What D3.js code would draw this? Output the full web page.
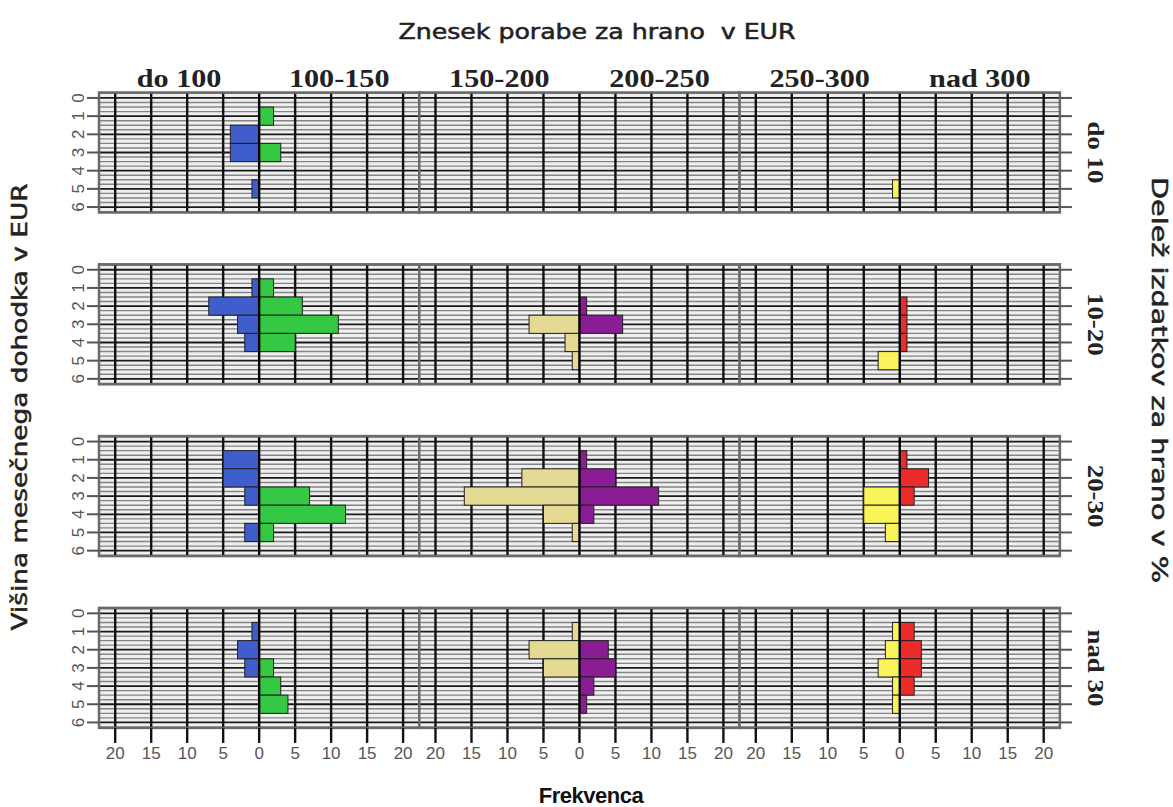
<!DOCTYPE html>
<html>
<head>
<meta charset="utf-8">
<script src="https://cdn.jsdelivr.net/npm/d3@7/dist/d3.min.js"></script>
<style>
  body { margin: 0; background: #fff; }
  svg { display: block; }
</style>
</head>
<body>
<svg id="chart"></svg>
<script>
// income level (y), spending categories (columns), share of food spending (rows)
const incomeLevels = [0, 1, 2, 3, 4, 5, 6];
const spendCats = ['do 100', '100-150', '150-200', '200-250', '250-300', 'nad 300'];
const shareCats = ['do 10', '10-20', '20-30', 'nad 30'];
const xTicks = [20, 15, 10, 5, 0, 5, 10, 15, 20];

// counts per income level, one list per spending category
const rowDo10 = [
  [0, 0, 4, 4, 0, 1, 0],
  [0, 2, 0, 3, 0, 0, 0],
  [0, 0, 0, 0, 0, 0, 0],
  [0, 0, 0, 0, 0, 0, 0],
  [0, 0, 0, 0, 0, 1, 0],
  [0, 0, 0, 0, 0, 0, 0]
];
const row10to20 = [
  [0, 1, 7, 3, 2, 0, 0],
  [0, 2, 6, 11, 5, 0, 0],
  [0, 0, 0, 7, 2, 1, 0],
  [0, 0, 1, 6, 0, 0, 0],
  [0, 0, 0, 0, 0, 3, 0],
  [0, 0, 1, 1, 1, 0, 0]
];
const row20to30 = [
  [0, 5, 5, 2, 0, 2, 0],
  [0, 0, 0, 7, 12, 2, 0],
  [0, 0, 8, 16, 5, 1, 0],
  [0, 1, 5, 11, 2, 0, 0],
  [0, 0, 0, 5, 5, 2, 0],
  [0, 1, 4, 2, 0, 0, 0]
];
const rowNad30 = [
  [0, 1, 3, 2, 0, 0, 0],
  [0, 0, 0, 2, 3, 4, 0],
  [0, 1, 7, 5, 0, 0, 0],
  [0, 0, 4, 5, 2, 1, 0],
  [0, 1, 2, 3, 1, 1, 0],
  [0, 2, 3, 3, 2, 0, 0]
];
const rows = [rowDo10, row10to20, row20to30, rowNad30];

const colors = ['#3f5ecb', '#34c845', '#e4da94', '#8a1c94', '#f9f45a', '#ee2b2b'];

const width = 1173, height = 807;
const svg = d3.select('#chart').attr('width', width).attr('height', height);

const panelLeft = 99, panelW = 320.3;
const rowTop = 92.5, rowStep = 171.8, rowH = 120;

// one x scale per pyramid pair (left side negative)
const xScales = [0, 1, 2].map(p => d3.scaleLinear()
  .domain([-22.25, 22.25])
  .range([panelLeft + p * panelW, panelLeft + (p + 1) * panelW]));

const gridY = d3.range(-0.25, 6.3, 0.25);

// stretch text horizontally like the original (wide rendering)
const stretch = (sel, k) => {
  const len = sel.node().getComputedTextLength();
  sel.attr('textLength', len * k).attr('lengthAdjust', 'spacingAndGlyphs');
};

rows.forEach((rowData, r) => {
  const top = rowTop + r * rowStep;
  const y = d3.scaleLinear().domain([-0.3, 6.3]).range([top, top + rowH]);
  const g = svg.append('g').attr('class', 'row');

  xScales.forEach((x, p) => {
    const pg = g.append('g');
    const [x0, x1] = x.range();

    pg.append('rect')
      .attr('x', x0).attr('y', top)
      .attr('width', x1 - x0).attr('height', rowH)
      .attr('fill', '#efefef');

    // horizontal stripes
    pg.selectAll('.hgrid').data(gridY).enter().append('line')
      .attr('x1', x0).attr('x2', x1)
      .attr('y1', d => y(d)).attr('y2', d => y(d))
      .attr('stroke', d => Number.isInteger(d) ? '#1a1a1a' : '#858585')
      .attr('stroke-width', d => Number.isInteger(d) ? 1.8 : 1.4);

    // vertical grid
    const vx = [-20, -15, -10, -5, 5, 10, 15, 20];
    pg.selectAll('.vgrid').data(vx).enter().append('line')
      .attr('x1', d => x(d)).attr('x2', d => x(d))
      .attr('y1', top).attr('y2', top + rowH)
      .attr('stroke', '#111').attr('stroke-width', 2.4);

    // bars: left category, right category
    [0, 1].forEach(side => {
      const c = p * 2 + side;
      const vals = rowData[c];
      pg.selectAll('.bar' + side).data(incomeLevels.filter(i => vals[i] > 0)).enter().append('rect')
        .attr('x', i => side === 0 ? x(-vals[i]) : x(0))
        .attr('width', i => Math.abs(x(vals[i]) - x(0)))
        .attr('y', i => y(i - 0.5))
        .attr('height', i => y(i + 0.5) - y(i - 0.5))
        .attr('fill', colors[c])
        .attr('stroke', '#222')
        .attr('stroke-width', 1);
    });

    // zero line
    pg.append('line')
      .attr('x1', x(0)).attr('x2', x(0))
      .attr('y1', top).attr('y2', top + rowH)
      .attr('stroke', '#000').attr('stroke-width', 2.4);

    pg.append('rect')
      .attr('x', x0).attr('y', top)
      .attr('width', x1 - x0).attr('height', rowH)
      .attr('fill', 'none').attr('stroke', '#6a6a6a').attr('stroke-width', 2.5);
  });

  // y ticks left and right
  const xl = panelLeft, xr = panelLeft + 3 * panelW;
  g.selectAll('.ytl').data(incomeLevels).enter().append('line')
    .attr('x1', xl - 12).attr('x2', xl)
    .attr('y1', d => y(d)).attr('y2', d => y(d))
    .attr('stroke', '#555').attr('stroke-width', 2);
  g.selectAll('.ytr').data(incomeLevels).enter().append('line')
    .attr('x1', xr).attr('x2', xr + 12)
    .attr('y1', d => y(d)).attr('y2', d => y(d))
    .attr('stroke', '#555').attr('stroke-width', 2);
  g.selectAll('.ylab').data(incomeLevels).enter().append('text')
    .attr('transform', d => `translate(${xl - 21},${y(d)}) rotate(-90)`)
    .attr('text-anchor', 'middle')
    .attr('dy', '0.35em')
    .style('font-family', 'Liberation Sans, Arial, sans-serif')
    .style('font-size', '17px')
    .attr('fill', '#555')
    .text(d => d);

  // row label
  const rl = g.append('text')
    .attr('transform', `translate(${xr + 37},${top + rowH / 2}) rotate(90)`)
    .attr('text-anchor', 'middle')
    .attr('dy', '0.35em')
    .style('font-family', 'Liberation Serif, serif')
    .style('font-weight', 'bold')
    .style('font-size', '24px')
    .attr('fill', '#222')
    .text(shareCats[r]);
  stretch(rl, 1.12);
});

// bottom x axis ticks and labels
const bottom = rowTop + 3 * rowStep + rowH;
xScales.forEach(x => {
  const tv = [-20, -15, -10, -5, 0, 5, 10, 15, 20];
  svg.selectAll(null).data(tv).enter().append('line')
    .attr('x1', d => x(d)).attr('x2', d => x(d))
    .attr('y1', bottom).attr('y2', bottom + 15)
    .attr('stroke', '#111').attr('stroke-width', 2.4);
  svg.selectAll(null).data(tv).enter().append('text')
    .attr('x', d => x(d)).attr('y', bottom + 31)
    .attr('text-anchor', 'middle')
    .style('font-family', 'Liberation Sans, Arial, sans-serif')
    .style('font-size', '17px')
    .attr('fill', '#555')
    .text((d, i) => xTicks[i]);
});

// column labels
spendCats.forEach((c, i) => {
  const x = xScales[Math.floor(i / 2)];
  const cx = i % 2 === 0 ? x(-11.125) : x(11.125);
  const t = svg.append('text')
    .attr('x', cx).attr('y', 87)
    .attr('text-anchor', 'middle')
    .style('font-family', 'Liberation Serif, serif')
    .style('font-weight', 'bold')
    .style('font-size', '26px')
    .attr('fill', '#222')
    .text(c);
  stretch(t, 1.16);
});

// titles
const titleStyle = sel => sel
  .style('font-family', 'DejaVu Sans Condensed, DejaVu Sans, sans-serif')
  .style('font-size', '22px')
  .attr('fill', '#222')
  .attr('stroke', '#222')
  .attr('stroke-width', 0.5)
  .attr('lengthAdjust', 'spacingAndGlyphs')
  .attr('text-anchor', 'middle');

svg.append('text')
  .attr('x', 597).attr('y', 39)
  .attr('textLength', 397)
  .style('white-space', 'pre')
  .call(titleStyle)
  .text('Znesek porabe za hrano  v EUR');

svg.append('text')
  .attr('transform', 'translate(27,407) rotate(-90)')
  .attr('textLength', 447)
  .call(titleStyle)
  .text('Višina mesečnega dohodka v EUR');

svg.append('text')
  .attr('transform', 'translate(1152,380) rotate(90)')
  .attr('textLength', 406)
  .call(titleStyle)
  .text('Delež izdatkov za hrano v %');

svg.append('text')
  .attr('x', 591).attr('y', 803)
  .attr('text-anchor', 'middle')
  .style('font-family', 'Liberation Sans, Arial, sans-serif')
  .style('font-weight', 'bold')
  .style('font-size', '22px')
  .style('letter-spacing', '-0.5px')
  .attr('fill', '#111')
  .text('Frekvenca');
</script>
</body>
</html>
